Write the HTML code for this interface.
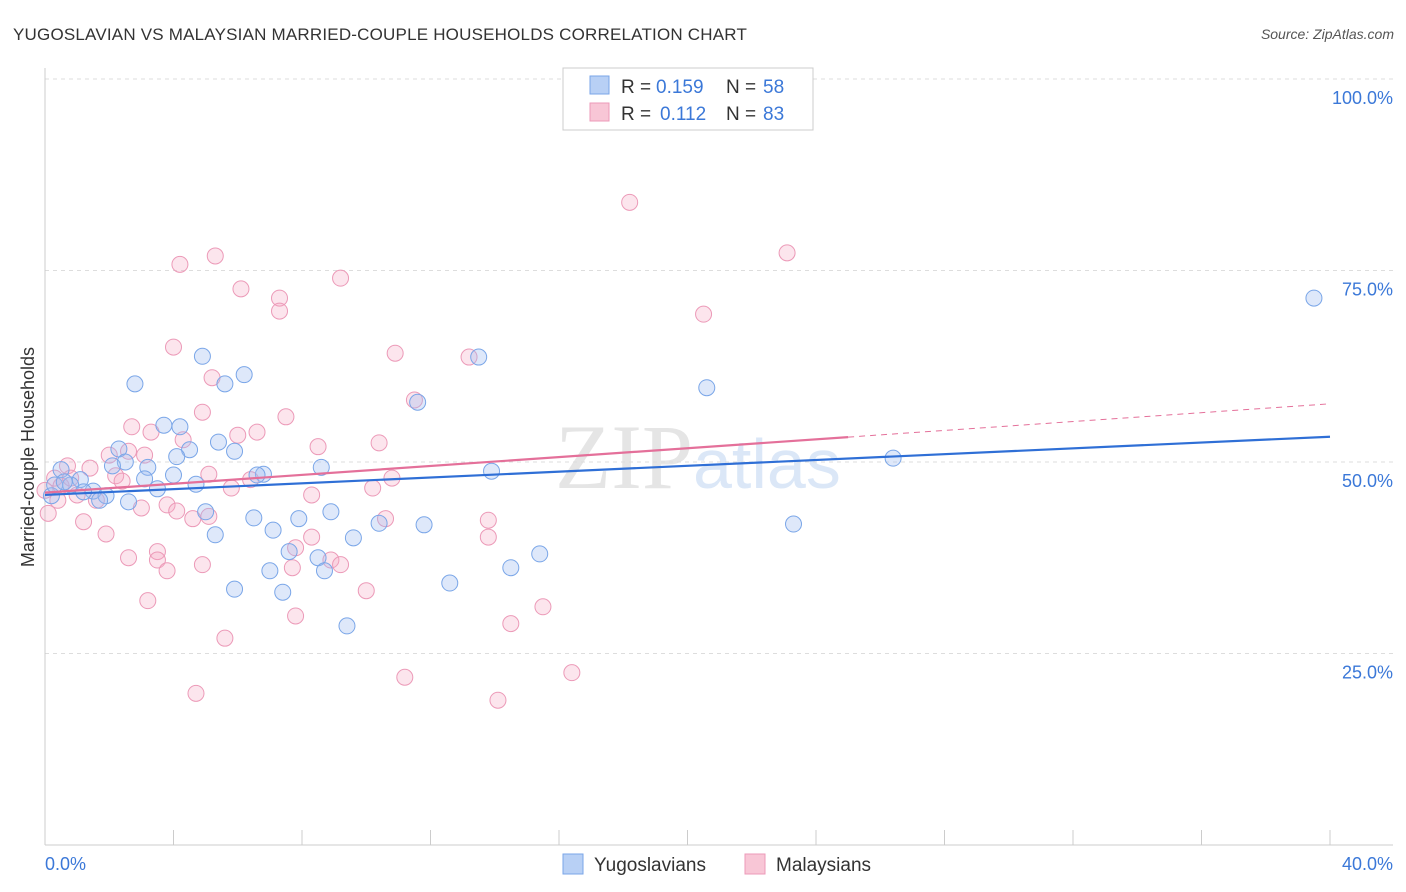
<!DOCTYPE html>
<html><head><meta charset="utf-8"><style>
body{margin:0;background:#fff;font-family:"Liberation Sans",sans-serif;}
svg{display:block}
</style></head><body>
<svg id="chart" width="1406" height="892" viewBox="0 0 1406 892" xmlns="http://www.w3.org/2000/svg">
<text x="13" y="40" font-size="17" fill="#333" letter-spacing="0.2">YUGOSLAVIAN VS MALAYSIAN MARRIED-COUPLE HOUSEHOLDS CORRELATION CHART</text>
<text x="1394" y="39" font-size="14" fill="#555" font-style="italic" text-anchor="end">Source: ZipAtlas.com</text>
<text x="555" y="488" font-size="92" fill="#ddd" font-family="Liberation Serif" opacity="0.75">ZIP<tspan fill="#cfe0f5" font-family="Liberation Sans" font-size="70">atlas</tspan></text>
<g id="grid"></g><g id="axes"></g><g id="marks"></g><g id="lines"></g>
<text transform="translate(34,457) rotate(-90)" font-size="18" fill="#333" text-anchor="middle">Married-couple Households</text>
<g font-size="19">
<rect x="563" y="68" width="250" height="62" fill="#fff" stroke="#ccc"/>
<rect x="590" y="76" width="19" height="18" fill="#b8d0f5" stroke="#7aa6e8"/>
<text x="621" y="93" fill="#333">R =</text><text x="656" y="93" fill="#3b78d8">0.159</text>
<text x="726" y="93" fill="#333">N =</text><text x="763" y="93" fill="#3b78d8">58</text>
<rect x="590" y="103" width="19" height="18" fill="#f8c6d6" stroke="#ec9ab8"/>
<text x="621" y="120" fill="#333">R =</text><text x="660" y="120" fill="#3b78d8">0.112</text>
<text x="726" y="120" fill="#333">N =</text><text x="763" y="120" fill="#3b78d8">83</text>
</g>
<g>
<rect x="563" y="854" width="20" height="20" fill="#b8d0f5" stroke="#7aa6e8"/>
<text x="594" y="871" font-size="19" fill="#333">Yugoslavians</text>
<rect x="745" y="854" width="20" height="20" fill="#f8c6d6" stroke="#ec9ab8"/>
<text x="776" y="871" font-size="19" fill="#333">Malaysians</text>
</g>
</svg>
<script>
const yTicks=[25,50,75,100];
const yTickLabels=["25.0%","50.0%","75.0%","100.0%"];
const xTicks=[0,4,8,12,16,20,24,28,32,36,40];
const blueX=[39.5,13.5,4.9,2.8,5.6,6.2,20.6,11.6,3.7,4.2,5.4,5.9,4.5,2.3,4.1,2.5,2.1,3.2,8.6,6.8,6.6,13.9,26.4,4.0,3.1,4.7,3.5,0.5,1.1,0.8,1.5,1.9,1.7,2.6,5.0,6.5,7.9,8.9,10.4,11.8,23.3,7.1,5.3,9.6,15.4,7.6,8.5,14.5,7.0,8.7,12.6,5.9,7.4,9.4,0.2,0.3,0.6,1.2];
const blueY=[71.4,63.7,63.8,60.2,60.2,61.4,59.7,57.8,54.8,54.6,52.6,51.4,51.6,51.7,50.7,50.0,49.5,49.3,49.3,48.4,48.3,48.8,50.5,48.3,47.8,47.1,46.5,49.0,47.7,47.0,46.2,45.6,45.0,44.8,43.5,42.7,42.6,43.5,42.0,41.8,41.9,41.1,40.5,40.1,38.0,38.3,37.5,36.2,35.8,35.8,34.2,33.4,33.0,28.6,45.6,47.0,47.4,46.1];
const pinkX=[18.2,23.1,5.3,4.2,9.2,6.1,7.3,7.3,20.5,4.0,10.9,13.2,5.2,11.5,4.9,7.5,2.7,3.3,6.6,6.0,4.3,10.4,8.5,2.6,3.1,2.0,0.7,1.4,5.1,2.2,2.4,10.8,6.4,5.8,8.3,10.2,0.3,0.5,1.0,1.6,3.0,3.8,4.1,5.1,4.6,10.6,13.8,1.2,1.9,13.8,8.3,2.6,3.5,3.5,4.9,3.8,7.7,8.9,9.2,7.8,10.0,15.5,3.2,7.8,14.5,5.6,16.4,11.2,4.7,14.1,0.1,0.4,0.0,0.8];
const pinkY=[83.9,77.3,76.9,75.8,74.0,72.6,71.4,69.7,69.3,65.0,64.2,63.7,61.0,58.1,56.5,55.9,54.6,53.9,53.9,53.5,52.9,52.5,52.0,51.4,50.9,50.9,49.5,49.2,48.4,48.2,47.5,47.9,47.7,46.6,45.7,46.6,47.9,46.9,45.7,45.0,44.0,44.4,43.6,42.9,42.6,42.6,42.4,42.2,40.6,40.2,40.2,37.5,38.3,37.2,36.6,35.8,36.2,37.2,36.6,38.8,33.2,31.1,31.9,29.9,28.9,27.0,22.5,21.9,19.8,18.9,43.3,45.0,46.3,47.9];
const blueTrend=[45.7,53.3];
const pinkTrend=[46.0,57.6];
const pinkSolidEnd=25;

const NS="http://www.w3.org/2000/svg";
const X=v=>45+v*32.125, Y=v=>845-v*7.66;
function mk(tag,attrs,parent){const e=document.createElementNS(NS,tag);for(const k in attrs)e.setAttribute(k,attrs[k]);parent.appendChild(e);return e;}
const grid=document.getElementById('grid'),axes=document.getElementById('axes'),marks=document.getElementById('marks'),lines=document.getElementById('lines');
yTicks.forEach((t,i)=>{
  const l=mk('line',{x1:45,x2:1393,y1:Y(t),y2:Y(t),stroke:'#ddd','stroke-dasharray':'4,4'},grid);
  
  
  const tx=mk('text',{x:1393,y:Y(t)+25,'font-size':18,fill:'#3b78d8','text-anchor':'end'},grid);
  tx.textContent=yTickLabels[i];
  
  
});
const xl=mk('line',{x1:45,x2:1393,y1:845,y2:845,stroke:'#ccc'},axes);


const yl=mk('line',{x1:45,x2:45,y1:68,y2:845,stroke:'#ccc'},axes);


xTicks.forEach(t=>{
  const l=mk('line',{x1:X(t),x2:X(t),y1:830,y2:845,stroke:'#ccc'},axes);
  
  
});
[[0,"0.0%","start",45],[40,"40.0%","end",1393]].forEach(a=>{
  const tx=mk('text',{x:a[3],y:870,'font-size':18,fill:'#3b78d8','text-anchor':a[2]},axes);
  tx.textContent=a[1];
  
  
});
pinkX.forEach((v,i)=>{
  const c=mk('circle',{cx:X(v),cy:Y(pinkY[i]),r:8,fill:'rgba(245,170,195,0.3)',stroke:'#ec9ab8','stroke-width':1},marks);
  
  
});
blueX.forEach((v,i)=>{
  const c=mk('circle',{cx:X(v),cy:Y(blueY[i]),r:8,fill:'rgba(160,190,240,0.35)',stroke:'#7aa6e8','stroke-width':1},marks);
  
  
});
const bl=mk('line',{x1:X(0),y1:Y(blueTrend[0]),x2:X(40),y2:Y(blueTrend[1]),stroke:'#2f6fd6','stroke-width':2.2},lines);


const pAt=x=>pinkTrend[0]+(pinkTrend[1]-pinkTrend[0])*x/40;
const pl=mk('line',{x1:X(0),y1:Y(pAt(0)),x2:X(pinkSolidEnd),y2:Y(pAt(pinkSolidEnd)),stroke:'#e4709a','stroke-width':2.2},lines);


const pd=mk('line',{x1:X(pinkSolidEnd),y1:Y(pAt(pinkSolidEnd)),x2:X(40),y2:Y(pAt(40)),stroke:'#e4709a','stroke-width':1,'stroke-dasharray':'6,5'},lines);


</script>
</body></html>
